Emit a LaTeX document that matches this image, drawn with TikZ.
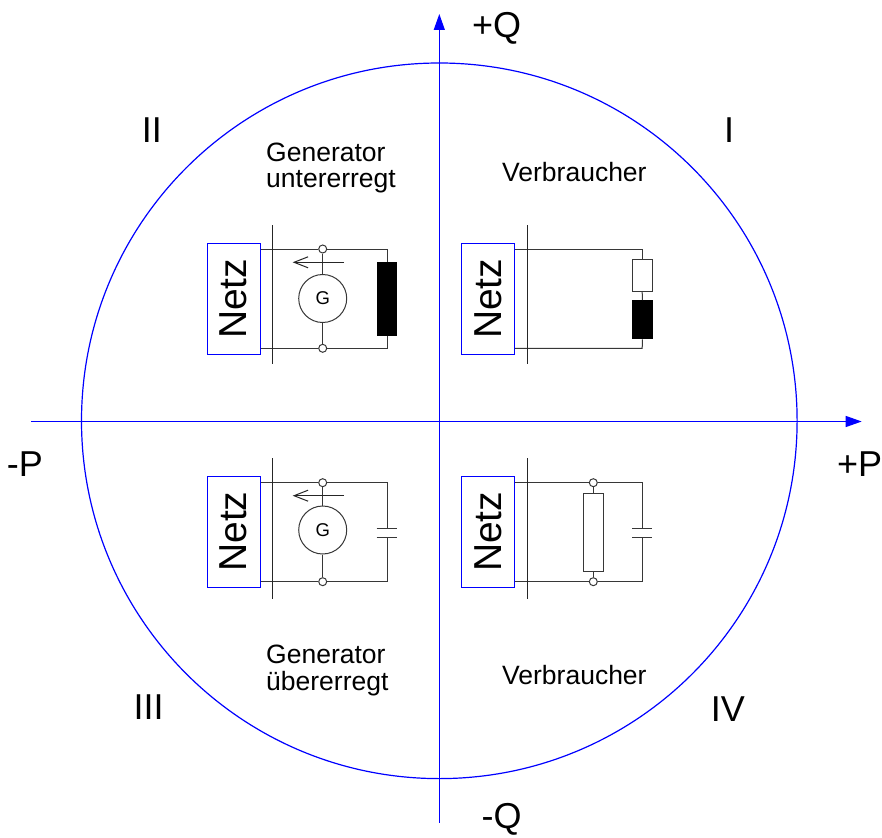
\documentclass[tikz,border=0pt]{standalone}
\usepackage{fontspec}
\setmainfont{Liberation Sans}
\usetikzlibrary{arrows.meta}
\definecolor{axblue}{RGB}{0,0,255}
\definecolor{wiregray}{RGB}{55,55,55}
\begin{document}
\begin{tikzpicture}[x=1pt,y=-1pt,
  axis/.style={axblue, line width=1.2pt, -{Triangle[length=16pt,width=11pt]}},
  ring/.style={axblue, line width=1.2pt},
  wire/.style={wiregray, line width=1pt},
  divider/.style={black!85, line width=1.1pt},
  flow/.style={black!85, line width=1pt, -{Straight Barb[length=14pt,width=11pt]}},
  netz/.style={draw=axblue, line width=1.1pt, fill=white, rotate=90, minimum width=111pt, minimum height=53.3pt, inner sep=0pt, font=\fontsize{39}{40}\selectfont},
  term/.style={circle, draw=wiregray, fill=white, line width=1pt, minimum size=8pt, inner sep=0pt},
  gen/.style={circle, draw=wiregray, line width=1pt, minimum size=48pt, inner sep=0pt, font=\fontsize{18.5}{19}\selectfont},
  blackbox/.style={draw=black, fill=black, line width=1pt, inner sep=0pt},
  whitebox/.style={draw=wiregray, fill=white, line width=1pt, inner sep=0pt},
  bigl/.style={inner sep=0pt, anchor=base west, font=\fontsize{36}{40}\selectfont},
  midl/.style={inner sep=0pt, anchor=base west, font=\fontsize{26.5}{28}\selectfont}
]
\useasboundingbox (0,0) rectangle (882,837);

% circle and axes
\coordinate (O) at (439.3,420.8);
\draw[ring] (O) circle[radius=357.8];
\coordinate (xl) at (31,421.5);
\coordinate (xr) at (861.7,421.5);
\coordinate (yb) at (439.3,822.7);
\coordinate (yt) at (439.3,14);
\draw[axis] (xl) -- (xr);
\draw[axis] (yb) -- (yt);

% axis labels and quadrant numbers
\node[bigl] (pQ) at (472,38) {+Q};
\node[bigl] (mQ) at (481.5,828) {-Q};
\node[bigl] (pP) at (837,476) {+P};
\node[bigl] (mP) at (6.7,476) {-P};
\node[bigl] (q2) at (141.6,142.3) {II};
\node[bigl] (q1) at (724,142.3) {I};
\node[bigl] (q3) at (133.3,719.3) {III};
\node[bigl] (q4) at (710.6,721) {IV};

% quadrant texts
\node[midl] (g2a) at (266,161.7) {Generator};
\node[midl] (g2b) at (266,187.3) {untererregt};
\node[midl] (g3a) at (266,663.3) {Generator};
\node[midl] (g3b) at (266,690) {übererregt};
\node[midl] (v1) at (502,181) {Verbraucher};
\node[midl] (v4) at (502,684) {Verbraucher};

% ===== Quadrant II =====
\coordinate (dIIt) at (272.7,225);
\coordinate (dIIb) at (272.7,364.3);
\node[netz] (nII) at (233.7,298.8) {Netz};
\node[term] (tIIa) at (322.7,249) {};
\node[term] (tIIb) at (322.7,348.3) {};
\node[gen] (gII) at (322.7,298.5) {G};
\node[blackbox, minimum width=19.3pt, minimum height=72.7pt] (LII) at (387,298.7) {};
\draw[wire] (nII.south |- tIIa) -- (tIIa.west);
\draw[wire] (tIIa.east) -- (tIIa -| LII.north) -- (LII.north);
\draw[wire] (nII.south |- tIIb) -- (tIIb.west);
\draw[wire] (tIIb.east) -- (tIIb -| LII.south) -- (LII.south);
\draw[wire] (tIIa.south) -- (gII.north);
\draw[wire] (tIIb.north) -- (gII.south);
\draw[divider] (dIIt) -- (dIIb);
\coordinate (aIIs) at (344,262.3);
\coordinate (aIIe) at (292.7,262.3);
\draw[flow] (aIIs) -- (aIIe);

% ===== Quadrant III =====
\coordinate (dIIIt) at (272.7,458.3);
\coordinate (dIIIb) at (272.7,599.3);
\node[netz] (nIII) at (233.7,531.7) {Netz};
\node[term] (tIIIa) at (322.7,482.7) {};
\node[term] (tIIIb) at (322.7,581.7) {};
\node[gen] (gIII) at (322.7,530) {G};
\coordinate (cIIIa) at (387,528.3);
\coordinate (cIIIb) at (387,537.3);
\draw[wire] (nIII.south |- tIIIa) -- (tIIIa.west);
\draw[wire] (tIIIa.east) -- (tIIIa -| cIIIa) -- (cIIIa);
\draw[wire] (nIII.south |- tIIIb) -- (tIIIb.west);
\draw[wire] (tIIIb.east) -- (tIIIb -| cIIIb) -- (cIIIb);
\draw[wire] ([xshift=-10.3pt]cIIIa) -- ([xshift=10.3pt]cIIIa);
\draw[wire] ([xshift=-10.3pt]cIIIb) -- ([xshift=10.3pt]cIIIb);
\draw[wire] (tIIIa.south) -- (gIII.north);
\draw[wire] (tIIIb.north) -- (gIII.south);
\draw[divider] (dIIIt) -- (dIIIb);
\coordinate (aIIIs) at (344,495.7);
\coordinate (aIIIe) at (292.7,495.7);
\draw[flow] (aIIIs) -- (aIIIe);

% ===== Quadrant I =====
\coordinate (dIt) at (527.3,225);
\coordinate (dIb) at (527.3,364.3);
\node[netz] (nI) at (488,298.8) {Netz};
\coordinate (wIa) at (642.2,249);
\coordinate (wIb) at (642.2,348.3);
\node[whitebox, minimum width=20pt, minimum height=32.4pt] (RI) at (642.2,275.5) {};
\node[blackbox, minimum width=20pt, minimum height=38.3pt] (LI) at (642.4,319.8) {};
\draw[wire] (nI.south |- wIa) -- (wIa) -- (RI.north);
\draw[wire] (RI.south) -- (LI.north);
\draw[wire] (nI.south |- wIb) -- (wIb) -- (LI.south);
\draw[divider] (dIt) -- (dIb);

% ===== Quadrant IV =====
\coordinate (dIVt) at (527.3,458.3);
\coordinate (dIVb) at (527.3,599.3);
\node[netz] (nIV) at (488,531.8) {Netz};
\node[term] (tIVa) at (593.3,482.7) {};
\node[term] (tIVb) at (593.3,581.7) {};
\node[whitebox, minimum width=20pt, minimum height=78.4pt] (RIV) at (593.3,532.5) {};
\coordinate (cIVa) at (642,528.3);
\coordinate (cIVb) at (642,537.3);
\draw[wire] (nIV.south |- tIVa) -- (tIVa.west);
\draw[wire] (tIVa.east) -- (tIVa -| cIVa) -- (cIVa);
\draw[wire] (nIV.south |- tIVb) -- (tIVb.west);
\draw[wire] (tIVb.east) -- (tIVb -| cIVb) -- (cIVb);
\draw[wire] ([xshift=-10pt]cIVa) -- ([xshift=10pt]cIVa);
\draw[wire] ([xshift=-10pt]cIVb) -- ([xshift=10pt]cIVb);
\draw[wire] (tIVa.south) -- (RIV.north);
\draw[wire] (tIVb.north) -- (RIV.south);
\draw[divider] (dIVt) -- (dIVb);
\end{tikzpicture}
\end{document}
